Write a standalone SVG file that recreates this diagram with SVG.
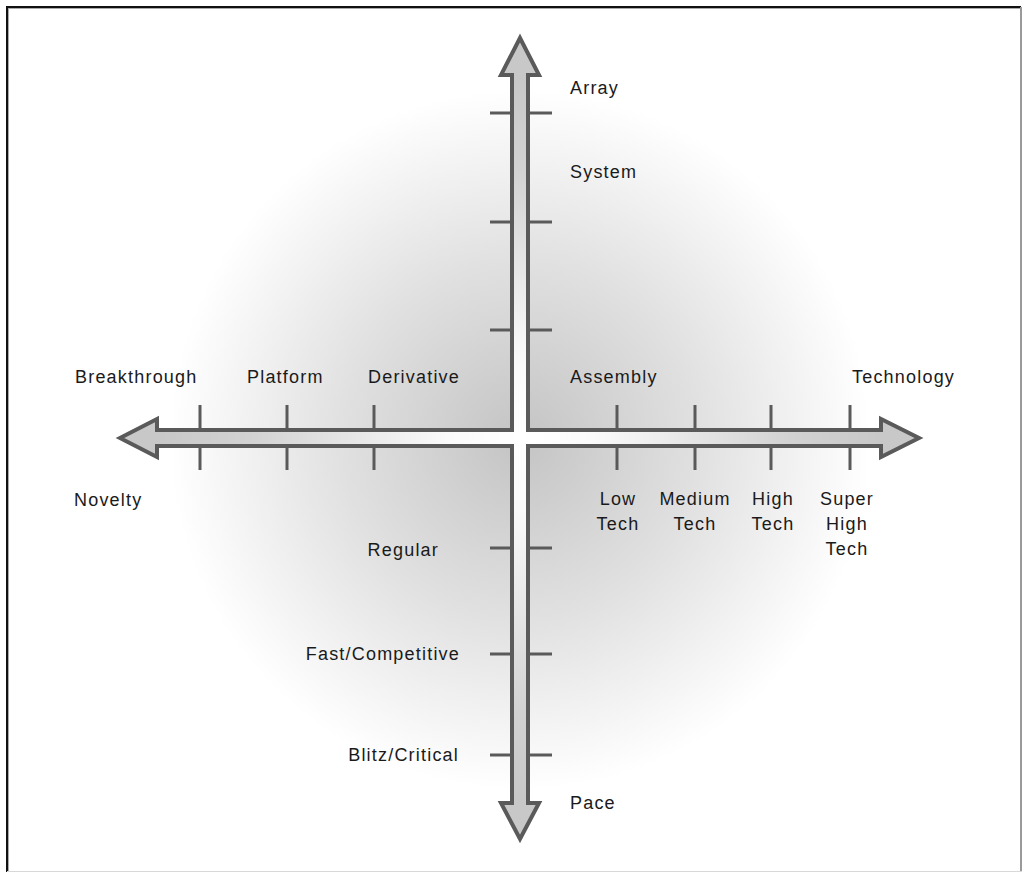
<svg xmlns="http://www.w3.org/2000/svg" width="1023" height="872" viewBox="0 0 1023 872">
  <style>
    .lbl { font-family: "Liberation Sans", Arial, sans-serif; font-size: 18px; letter-spacing: 1.2px; fill: #1a1a1a; }
    .mid { text-anchor: middle; }
    .end { text-anchor: end; }
    .tick { stroke: #5a5a5a; stroke-width: 3; fill: none; }
  </style>
  <defs>
    <radialGradient id="bg" gradientUnits="userSpaceOnUse" cx="520" cy="440" r="350">
      <stop offset="0" stop-color="#c4c4c4"/>
      <stop offset="0.5" stop-color="#e0e0e0"/>
      <stop offset="1" stop-color="#ffffff"/>
    </radialGradient>
    <radialGradient id="shaft" gradientUnits="userSpaceOnUse" cx="520" cy="438" r="360">
      <stop offset="0" stop-color="#ffffff"/>
      <stop offset="0.2" stop-color="#fafafa"/>
      <stop offset="0.75" stop-color="#d2d2d2"/>
      <stop offset="1" stop-color="#c8c8c8"/>
    </radialGradient>
  </defs>

  <rect x="0" y="0" width="1023" height="872" fill="#ffffff"/>
  <rect x="8" y="8" width="1012" height="862" fill="url(#bg)"/>

  <g id="frame" fill="none">
    <line x1="7" y1="6" x2="7" y2="872" stroke="#111" stroke-width="2"/>
    <line x1="6" y1="7" x2="1021" y2="7" stroke="#111" stroke-width="2"/>
    <line x1="8.5" y1="8" x2="8.5" y2="872" stroke="#aaa" stroke-width="1"/>
    <line x1="8" y1="8.5" x2="1020" y2="8.5" stroke="#aaa" stroke-width="1"/>
    <line x1="1021" y1="7" x2="1021" y2="872" stroke="#9a9a9a" stroke-width="2"/>
    <line x1="7" y1="871.5" x2="1022" y2="871.5" stroke="#d8d8d8" stroke-width="1"/>
  </g>

  <g id="ticks">
    <line class="tick" x1="490" y1="113" x2="552" y2="113"/>
    <line class="tick" x1="490" y1="222" x2="552" y2="222"/>
    <line class="tick" x1="490" y1="330" x2="552" y2="330"/>
    <line class="tick" x1="490" y1="548" x2="552" y2="548"/>
    <line class="tick" x1="490" y1="654" x2="552" y2="654"/>
    <line class="tick" x1="490" y1="755" x2="552" y2="755"/>
    <line class="tick" x1="200" y1="405" x2="200" y2="470"/>
    <line class="tick" x1="287" y1="405" x2="287" y2="470"/>
    <line class="tick" x1="374" y1="405" x2="374" y2="470"/>
    <line class="tick" x1="617" y1="405" x2="617" y2="470"/>
    <line class="tick" x1="695" y1="405" x2="695" y2="470"/>
    <line class="tick" x1="771" y1="405" x2="771" y2="470"/>
    <line class="tick" x1="850" y1="405" x2="850" y2="470"/>
  </g>

  <g id="axes">
    <path d="M520,38 L539,75 L528,75 L528,430 L881,430 L881,419 L919,438 L881,457 L881,446 L528,446 L528,803 L539,803 L520,839 L501,803 L512,803 L512,446 L157,446 L157,457 L120,438 L157,419 L157,430 L512,430 L512,75 L501,75 Z"
          fill="url(#shaft)" stroke="#5a5a5a" stroke-width="4" stroke-linejoin="miter"/>
  </g>

  <g id="labels" class="lbl">
    <text class="lbl" x="570" y="94">Array</text>
    <text class="lbl" x="570" y="178">System</text>
    <text class="lbl" x="75" y="383">Breakthrough</text>
    <text class="lbl" x="247" y="383">Platform</text>
    <text class="lbl" x="368" y="383">Derivative</text>
    <text class="lbl" x="570" y="383">Assembly</text>
    <text class="lbl" x="852" y="383">Technology</text>
    <text class="lbl" x="74" y="506">Novelty</text>
    <text class="lbl mid" x="618" y="505">Low</text>
    <text class="lbl mid" x="618" y="530">Tech</text>
    <text class="lbl mid" x="695" y="505">Medium</text>
    <text class="lbl mid" x="695" y="530">Tech</text>
    <text class="lbl mid" x="773" y="505">High</text>
    <text class="lbl mid" x="773" y="530">Tech</text>
    <text class="lbl mid" x="847" y="505">Super</text>
    <text class="lbl mid" x="847" y="530">High</text>
    <text class="lbl mid" x="847" y="555">Tech</text>
    <text class="lbl end" x="439" y="556">Regular</text>
    <text class="lbl end" x="460" y="660">Fast/Competitive</text>
    <text class="lbl end" x="459" y="761">Blitz/Critical</text>
    <text class="lbl" x="570" y="809">Pace</text>
  </g>
</svg>
